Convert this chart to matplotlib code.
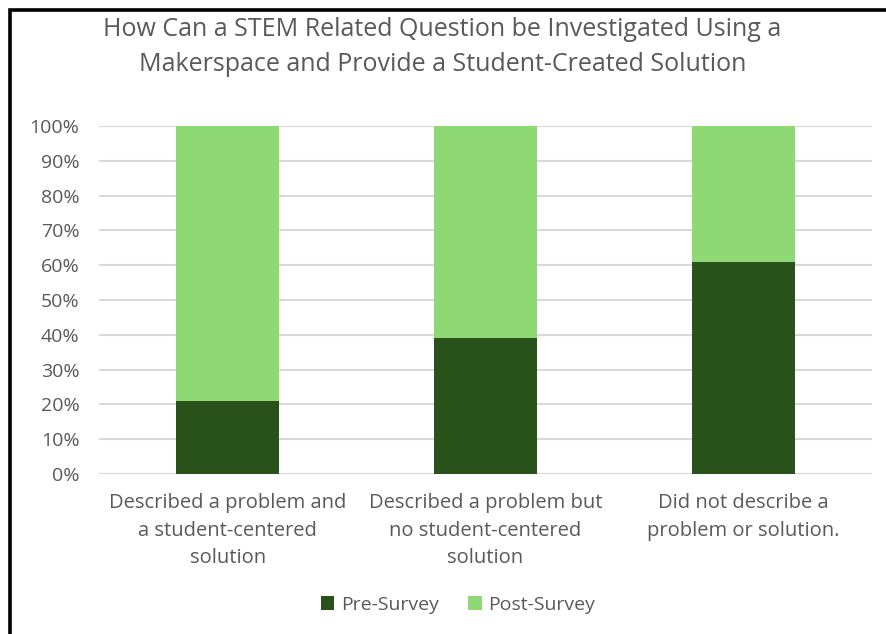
import matplotlib
matplotlib.use('Agg')
import matplotlib.pyplot as plt
import matplotlib.patches as patches
from matplotlib.ticker import PercentFormatter
from matplotlib import rcParams

rcParams['font.family'] = ['Open Sans', 'DejaVu Sans']

categories = [
    'Described a problem and\na student-centered\nsolution',
    'Described a problem but\nno student-centered\nsolution',
    'Did not describe a\nproblem or solution.',
]
pre_survey = [21, 39, 61]
post_survey = [79, 61, 39]
y_ticks = [0, 10, 20, 30, 40, 50, 60, 70, 80, 90, 100]

DARK = '#285219'
LIGHT = '#8ED973'
TEXT = '#595959'
GRID = '#D9D9D9'

W, H = 887, 634
fig = plt.figure(figsize=(W / 100, H / 100), dpi=100, facecolor='white')

# chart frame (top/left visible, rest cropped)
fig.add_artist(patches.Rectangle((10.5 / W, -0.05), 1.2, 1 - 9.5 / H + 0.05,
                                 transform=fig.transFigure, fill=False,
                                 edgecolor='black', linewidth=2.6))

ax = fig.add_axes([99 / W, 1 - 474 / H, 773 / W, 348 / H])
x = range(len(categories))
ax.bar(x, pre_survey, width=0.4, color=DARK, label='Pre-Survey', zorder=3)
ax.bar(x, post_survey, width=0.4, bottom=pre_survey, color=LIGHT,
       label='Post-Survey', zorder=3)

ax.set_xlim(-0.5, 2.5)
ax.set_ylim(0, 100)
ax.set_yticks(y_ticks)
ax.yaxis.set_major_formatter(PercentFormatter(decimals=0))
ax.set_xticks(list(x))
ax.set_xticklabels(categories, linespacing=1.5, fontsize=14.5)
ax.tick_params(axis='both', length=0, colors=TEXT)
ax.tick_params(axis='x', pad=14)
ax.tick_params(axis='y', pad=14, labelsize=14)
ax.grid(axis='y', color=GRID, linewidth=1.5, zorder=0)
for s in ax.spines.values():
    s.set_visible(False)

fig.text(0.499, 1 - 47 / H,
         'How Can a STEM Related Question be Investigated Using a\n'
         'Makerspace and Provide a Student-Created Solution',
         ha='center', va='center', fontsize=18, color=TEXT, linespacing=1.5)

leg = fig.legend(loc='center', bbox_to_anchor=(458 / W, 1 - 605 / H), ncol=2,
                 frameon=False, fontsize=14, handlelength=0.7, handleheight=0.7,
                 handletextpad=0.35, columnspacing=1.5, labelcolor=TEXT)

plt.savefig('out.png', dpi=100, facecolor='white')
plt.close()
